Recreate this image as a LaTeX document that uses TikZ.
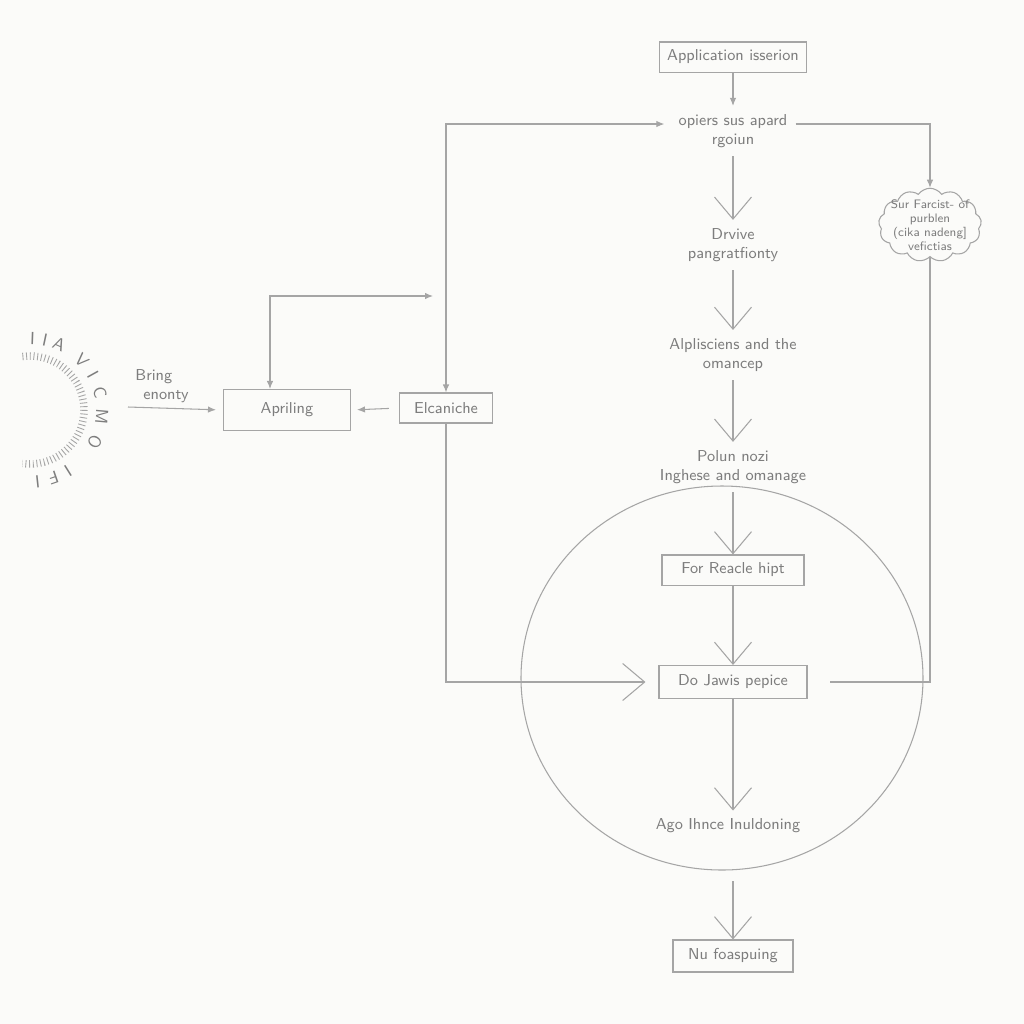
\documentclass[tikz,border=0pt]{standalone}
\usepackage{tikz}
\usetikzlibrary{arrows.meta,shapes.symbols,positioning,calc}
\definecolor{paper}{RGB}{251,251,249}
\definecolor{pencil}{RGB}{165,165,165}
\definecolor{lead}{RGB}{125,125,125}
\tikzstyle{box}=[draw=pencil,rectangle,line width=0.6pt,text=lead,minimum height=6mm,inner sep=1.6mm,font=\sffamily\small]
\tikzstyle{lbl}=[text=lead,align=center,font=\sffamily\small,inner sep=1.6mm]
\tikzstyle{wire}=[draw=pencil,line width=0.6pt]
\tikzstyle{vhead}=[wire,-{Straight Barb[length=4.4mm,width=7.4mm]}]
\tikzstyle{sarrow}=[wire,-{Latex[length=1.6mm,width=1.3mm]}]
\tikzstyle{sboth}=[wire,{Latex[length=1.6mm,width=1.3mm]}-{Latex[length=1.6mm,width=1.3mm]}]

\begin{document}
\begin{tikzpicture}[x=0.2mm,y=-0.2mm,>=latex]
\fill[paper] (0,0) rectangle (1024,1024);
% main column
\node[box] (app) at (733,57) {Application isserion};
\node[lbl] (opiers) at (733,131) {opiers sus apard\\rgoiun};
\node[lbl] (drive) at (733,245) {Drvive\\pangratfionty};
\node[lbl] (alpl) at (733,355) {Alplisciens and the\\omancep};
\node[lbl] (polun) at (733,467) {Polun nozi\\Inghese and omanage};
\node[box,minimum width=28.4mm] (forr) at (733,570) {For Reacle hipt};
\node[box,minimum width=29.6mm,minimum height=6.6mm] (dojaw) at (733,682) {Do Jawis pepice};
\node[lbl] (agoo) at (728,826) {Ago Ihnce Inuldoning};
\node[box,minimum width=24mm,minimum height=6.4mm] (nufo) at (733,956) {Nu foaspuing};
\draw[sarrow] (app) -- (opiers);
\draw[vhead] (opiers) -- (drive);
\draw[vhead] (drive) -- (alpl);
\draw[vhead] (alpl) -- (polun);
\draw[vhead] (polun) -- (forr);
\draw[vhead] (forr) -- (dojaw);
\draw[vhead] (dojaw) -- (dojaw |- agoo.north);
\draw[vhead] (nufo |- agoo.south) ++(0,40) coordinate (agoend) (agoend) -- (nufo);
% ring round the lower part
\draw[wire] (722,678) ellipse [x radius=40.2mm, y radius=38.4mm];
% right side
\node[cloud,draw=pencil,line width=0.6pt,cloud puffs=13,cloud puff arc=110,aspect=1.55,
  inner sep=-0.9mm,text=lead,align=center,font=\sffamily\scriptsize] (cloud) at (930,225)
  {Sur Farcist- of\\purblen\\(cika nadeng]\\vefictias};
\draw[sarrow] ([yshift=1.4mm]opiers.east) -| (cloud.north);
\draw[wire,shorten >=4.4mm] (cloud.south) |- (dojaw.east);
% left side
\node[box,minimum width=25.4mm,minimum height=8.2mm] (apr) at (287,410) {Apriling};
\node[box,minimum width=18.6mm] (elc) at (446,408) {Elcaniche};
\node[lbl,align=left] (bring) at (162,386) {Bring\\\hspace{1.6mm}enonty};
\coordinate (bstart) at (128,407);
\coordinate (aprend) at (433,296);
\draw[sarrow,shorten >=1.4mm] (bstart) -- (apr.west);
\draw[sarrow,shorten <=2mm,shorten >=1.2mm] (elc.west) -- (apr.east);
\draw[sboth] ([xshift=-3.4mm]apr.north) |- (aprend);
\draw[sboth,shorten >=1.2mm] (elc.north) |- ([yshift=1.4mm]opiers.west);
\draw[vhead,shorten >=2.6mm] (elc.south) |- (dojaw.west);
% ticked arc with letters
\coordinate (arcc) at (30,410);
\draw[pencil,line width=1.5mm,dash pattern=on 0.5pt off 1.6pt]
  ([shift={(98:10.8mm)}]arcc) arc[start angle=98,end angle=-98,radius=10.8mm];
\foreach \ch/\ang [count=\i] in {I/88,I/78,A/66,V/44,I/29,C/14,M/-5,O/-26,I/-58,F/-71,I/-84}
  \node[lbl,font=\sffamily,inner sep=0mm,rotate=\ang-90] (ltr\i) at ($(arcc)+(\ang:14.4mm)$) {\ch};
\end{tikzpicture}
\end{document}
